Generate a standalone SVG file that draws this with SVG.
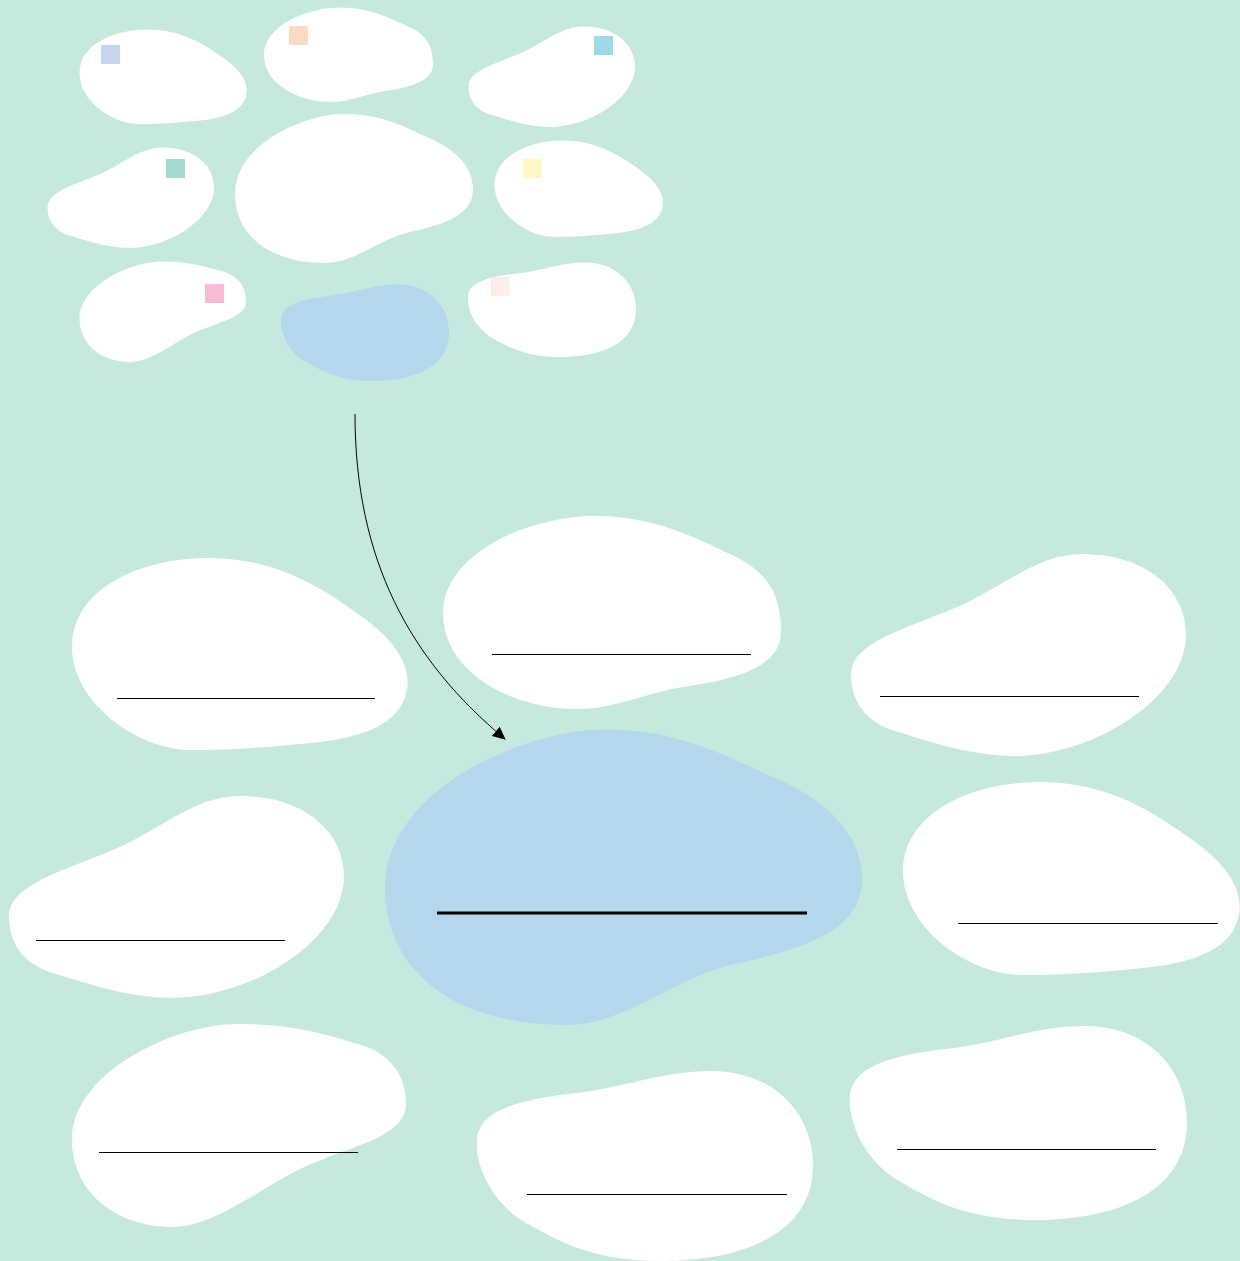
<svg xmlns="http://www.w3.org/2000/svg" width="1240" height="1261" viewBox="0 0 1240 1261">
<style>
.w{fill:#ffffff}
.b{fill:#b3d7eb}
.ln{stroke:#000;stroke-width:1;fill:none}
.lnc{stroke:#000;stroke-width:3;fill:none}
.edge{stroke:#000;stroke-width:1;fill:none}
</style>
<defs>
<path id="A" d="M0.3,46 C0.3,17 20,0.5 41,0.5 C62,0.5 76,17 88,32 C98,45 102,58 100,70 C98,85 88,92 74,95 C62,97 50,99 36,99 C20,99 0.3,75 0.3,46 Z"/>
<path id="B" d="M0.3,60 C0.3,45 15,38 30,28 C45,18 55,0.5 69,0.5 C88,0.5 100,18 100,40 C100,72 72,100 49,100 C35,100 22,92 12,87 C4,82 0.3,72 0.3,60 Z"/>
<path id="C" d="M0,50 C0,20 25,0.5 45,0.5 C63,0.5 75,12 85,20 C95,28 100,38 100,60 C100,80 82,85 70,88 C58,92 50,99 40,99 C20,99 0,80 0,50 Z"/>
<path id="D" d="M0.5,38 C0.5,20 15,15 30,12 C45,9 55,0.5 70,0.5 C88,0.5 100,22 100,50 C100,85 80,100 55,100 C35,100 25,90 15,80 C7,72 0.5,55 0.5,38 Z"/>
<path id="E" d="M0.3,57 C0.3,25 30,0.5 50,0.5 C65,0.5 75,5 85,10 C95,14 100,25 100,40 C100,55 85,60 75,67 C60,75 45,100 30,100 C15,100 0.3,85 0.3,57 Z"/>
<path id="F" d="M0,54 C0,20 30,0.5 46,0.5 C62,0.5 72,10 82,17 C92,24 100,35 100,51 C100,70 85,75 72,80 C60,85 50,100 38,100 C15,100 0,82 0,54 Z"/>
<marker id="arr" markerWidth="14" markerHeight="14" refX="12" refY="6" orient="auto" markerUnits="userSpaceOnUse">
<path d="M0,0 L13,6 L0,12 Z" fill="#000"/>
</marker>
</defs>
<rect width="1240" height="1261" fill="#c5e8df"/>

<g id="n1"><use href="#A" class="w" transform="translate(79,29) scale(1.67,0.96)"/><rect x="101" y="45" width="19" height="19" fill="#c6d4ec"/></g>
<g id="n2"><use href="#C" class="w" transform="translate(264,7) scale(1.69,0.96)"/><rect x="289" y="26" width="19" height="19" fill="#fcd9c4"/></g>
<g id="n3"><use href="#B" class="w" transform="translate(468,26) scale(1.67,1.01)"/><rect x="594" y="36" width="19" height="19" fill="#9ddbe8"/></g>
<g id="n4"><use href="#B" class="w" transform="translate(47,147) scale(1.67,1.01)"/><rect x="166" y="159" width="19" height="19" fill="#a2dbcf"/></g>
<g id="n5"><use href="#F" class="w" transform="translate(235,113) scale(2.38,1.50)"/></g>
<g id="n6"><use href="#A" class="w" transform="translate(494,140) scale(1.68,0.98)"/><rect x="523" y="159" width="19" height="19" fill="#fff8c4"/></g>
<g id="n7"><use href="#E" class="w" transform="translate(79,261) scale(1.67,1.01)"/><rect x="205" y="284" width="19" height="19" fill="#f7bbd6"/></g>
<g id="n8"><use href="#D" class="b" transform="translate(280,284) scale(1.69,0.97)"/></g>
<g id="n9"><use href="#D" class="w" transform="translate(467,262) scale(1.69,0.95)"/><rect x="491" y="277" width="19" height="19" fill="#fdeee8"/></g>

<g id="m1"><use href="#A" class="w" transform="translate(71,557) scale(3.35,1.95)"/><line class="ln" x1="117" y1="698.5" x2="375" y2="698.5"/></g>
<g id="m2"><use href="#C" class="w" transform="translate(443,515) scale(3.38,1.96)"/><line class="ln" x1="492" y1="654.5" x2="751" y2="654.5"/></g>
<g id="m3"><use href="#B" class="w" transform="translate(850,553) scale(3.36,2.03)"/><line class="ln" x1="880" y1="696.5" x2="1139" y2="696.5"/></g>
<g id="m4"><use href="#B" class="w" transform="translate(8,795) scale(3.36,2.03)"/><line class="ln" x1="36" y1="940.5" x2="285" y2="940.5"/></g>
<g id="m5"><use href="#F" class="b" transform="translate(385,728) scale(4.77,2.97)"/><line class="lnc" x1="437" y1="913" x2="807" y2="913"/></g>
<g id="m6"><use href="#A" class="w" transform="translate(902,781) scale(3.36,1.96)"/><line class="ln" x1="958" y1="923.5" x2="1218" y2="923.5"/></g>
<g id="m7"><use href="#E" class="w" transform="translate(71,1023) scale(3.35,2.04)"/><line class="ln" x1="99" y1="1152.5" x2="358" y2="1152.5"/></g>
<g id="m8"><use href="#D" class="w" transform="translate(475,1070) scale(3.38,1.91)"/><line class="ln" x1="527" y1="1194.5" x2="787" y2="1194.5"/></g>
<g id="m9"><use href="#D" class="w" transform="translate(848,1025) scale(3.39,1.95)"/><line class="ln" x1="897" y1="1149.5" x2="1156" y2="1149.5"/></g>

<g id="connectors">
<path class="edge" d="M355,414 C355,560 410,660 505,739" marker-end="url(#arr)"/>
</g>
</svg>
